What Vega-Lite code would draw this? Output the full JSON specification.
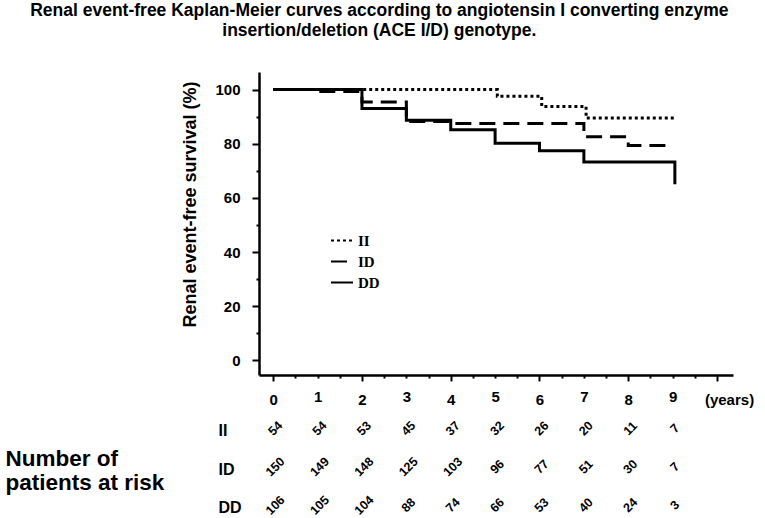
{
  "$schema": "https://vega.github.io/schema/vega-lite/v6.json",
  "padding": {"left": 5, "top": 1, "right": 5, "bottom": 0},
  "title": {
    "text": ["Renal event-free Kaplan-Meier curves according to angiotensin I converting enzyme", "insertion/deletion (ACE I/D) genotype."],
    "fontSize": 17.5,
    "fontWeight": "bold",
    "lineHeight": 20,
    "anchor": "middle",
    "frame": "bounds",
    "offset": 33,
    "color": "black"
  },
  "config": {
    "font": "Liberation Sans",
    "view": {"stroke": null},
    "axis": {"domainColor": "black", "tickColor": "black", "labelColor": "black", "titleColor": "black", "grid": false},
    "concat": {"spacing": 12}
  },
  "vconcat": [
    {
      "width": 474,
      "height": 303,
      "data": {
        "values": [
          {"genotype": "II", "year": 0, "survival": 100},
          {"genotype": "II", "year": 5.05, "survival": 97.5},
          {"genotype": "II", "year": 6.05, "survival": 93.8},
          {"genotype": "II", "year": 7.05, "survival": 89.5},
          {"genotype": "II", "year": 9.05, "survival": 89.5},
          {"genotype": "ID", "year": 0, "survival": 100},
          {"genotype": "ID", "year": 1, "survival": 99.3},
          {"genotype": "ID", "year": 2, "survival": 95.4},
          {"genotype": "ID", "year": 3, "survival": 88.2},
          {"genotype": "ID", "year": 4, "survival": 87.5},
          {"genotype": "ID", "year": 7, "survival": 82.6},
          {"genotype": "ID", "year": 8, "survival": 79.4},
          {"genotype": "ID", "year": 8.95, "survival": 79.4},
          {"genotype": "DD", "year": 0, "survival": 100},
          {"genotype": "DD", "year": 2, "survival": 93},
          {"genotype": "DD", "year": 3, "survival": 88.7},
          {"genotype": "DD", "year": 4, "survival": 85.2},
          {"genotype": "DD", "year": 5, "survival": 80.2},
          {"genotype": "DD", "year": 6, "survival": 77.4},
          {"genotype": "DD", "year": 7, "survival": 73.3},
          {"genotype": "DD", "year": 9.05, "survival": 65}
        ]
      },
      "mark": {"type": "line", "interpolate": "step-after", "strokeWidth": 3, "color": "black"},
      "encoding": {
        "x": {
          "field": "year",
          "type": "quantitative",
          "scale": {"domain": [-0.32, 10.36], "nice": false, "zero": false},
          "axis": {
            "title": null,
            "values": [0, 0.5, 1, 1.5, 2, 2.5, 3, 3.5, 4, 4.5, 5, 5.5, 6, 6.5, 7, 7.5, 8, 8.5, 9, 9.5, 10],
            "labelExpr": "datum.value == 10 ? '(years)' : (datum.value % 1 == 0 ? format(datum.value, 'd') : '')",
            "tickSize": {"condition": {"test": "datum.value % 2 == 0", "value": 6}, "value": 3},
            "labelOffset": {"condition": {"test": "datum.value == 10", "value": 12}, "value": 0},
            "labelPadding": 11,
            "labelOverlap": false,
            "labelFlush": false,
            "labelFontSize": 15,
            "labelFontWeight": "bold",
            "tickWidth": 2,
            "domainWidth": 2.5
          }
        },
        "y": {
          "field": "survival",
          "type": "quantitative",
          "scale": {"domain": [-5.4, 106.5], "nice": false, "zero": false},
          "axis": {
            "title": "Renal event-free survival (%)",
            "titleFontSize": 18,
            "titleFontWeight": "bold",
            "titlePadding": 15,
            "titleY": 132,
            "values": [0, 10, 20, 30, 40, 50, 60, 70, 80, 90, 100],
            "labelExpr": "datum.value % 20 == 0 ? datum.label : ''",
            "tickSize": {"condition": {"test": "datum.value % 20 == 0", "value": 7}, "value": 3},
            "labelPadding": 12,
            "labelFontSize": 15,
            "labelFontWeight": "bold",
            "tickWidth": 2,
            "domainWidth": 2.5
          }
        },
        "strokeDash": {
          "field": "genotype",
          "type": "nominal",
          "scale": {"domain": ["II", "ID", "DD"], "range": [[3, 3], [16, 8], [1, 0]]},
          "legend": {
            "title": null,
            "orient": "none",
            "legendX": 71,
            "legendY": 158,
            "labelFont": "Liberation Serif",
            "labelFontSize": 15,
            "labelFontWeight": "bold",
            "labelColor": "black",
            "symbolType": "stroke",
            "symbolSize": 484,
            "symbolStrokeWidth": 2,
            "symbolStrokeColor": "black",
            "clipHeight": 21,
            "rowPadding": 0,
            "labelOffset": 4
          }
        }
      }
    },
    {
      "width": 474,
      "height": 86,
      "data": {
        "values": [
          {"genotype": "II", "year": 0, "n": 54}, {"genotype": "II", "year": 1, "n": 54}, {"genotype": "II", "year": 2, "n": 53},
          {"genotype": "II", "year": 3, "n": 45}, {"genotype": "II", "year": 4, "n": 37}, {"genotype": "II", "year": 5, "n": 32},
          {"genotype": "II", "year": 6, "n": 26}, {"genotype": "II", "year": 7, "n": 20}, {"genotype": "II", "year": 8, "n": 11},
          {"genotype": "II", "year": 9, "n": 7},
          {"genotype": "ID", "year": 0, "n": 150}, {"genotype": "ID", "year": 1, "n": 149}, {"genotype": "ID", "year": 2, "n": 148},
          {"genotype": "ID", "year": 3, "n": 125}, {"genotype": "ID", "year": 4, "n": 103}, {"genotype": "ID", "year": 5, "n": 96},
          {"genotype": "ID", "year": 6, "n": 77}, {"genotype": "ID", "year": 7, "n": 51}, {"genotype": "ID", "year": 8, "n": 30},
          {"genotype": "ID", "year": 9, "n": 7},
          {"genotype": "DD", "year": 0, "n": 106}, {"genotype": "DD", "year": 1, "n": 105}, {"genotype": "DD", "year": 2, "n": 104},
          {"genotype": "DD", "year": 3, "n": 88}, {"genotype": "DD", "year": 4, "n": 74}, {"genotype": "DD", "year": 5, "n": 66},
          {"genotype": "DD", "year": 6, "n": 53}, {"genotype": "DD", "year": 7, "n": 40}, {"genotype": "DD", "year": 8, "n": 24},
          {"genotype": "DD", "year": 9, "n": 3}
        ]
      },
      "mark": {"type": "text", "angle": -45, "fontSize": 12.5, "fontWeight": "bold", "color": "black", "dx": 3},
      "encoding": {
        "x": {"field": "year", "type": "quantitative", "scale": {"domain": [-0.32, 10.36], "nice": false, "zero": false}, "axis": null},
        "y": {
          "field": "genotype",
          "type": "nominal",
          "sort": ["II", "ID", "DD"],
          "scale": {"type": "point", "padding": 0.12},
          "axis": {
            "title": ["Number of", "patients at risk"],
            "titleAngle": 0,
            "titleAlign": "left",
            "titleBaseline": "middle",
            "titleX": -254,
            "titleY": 32,
            "titleFontSize": 22.5,
            "titleFontWeight": "bold",
            "titleLineHeight": 24,
            "domain": false,
            "ticks": false,
            "labelAlign": "left",
            "labelPadding": 41,
            "labelFontSize": 16,
            "labelFontWeight": "bold"
          }
        },
        "text": {"field": "n", "type": "quantitative"}
      }
    }
  ]
}
